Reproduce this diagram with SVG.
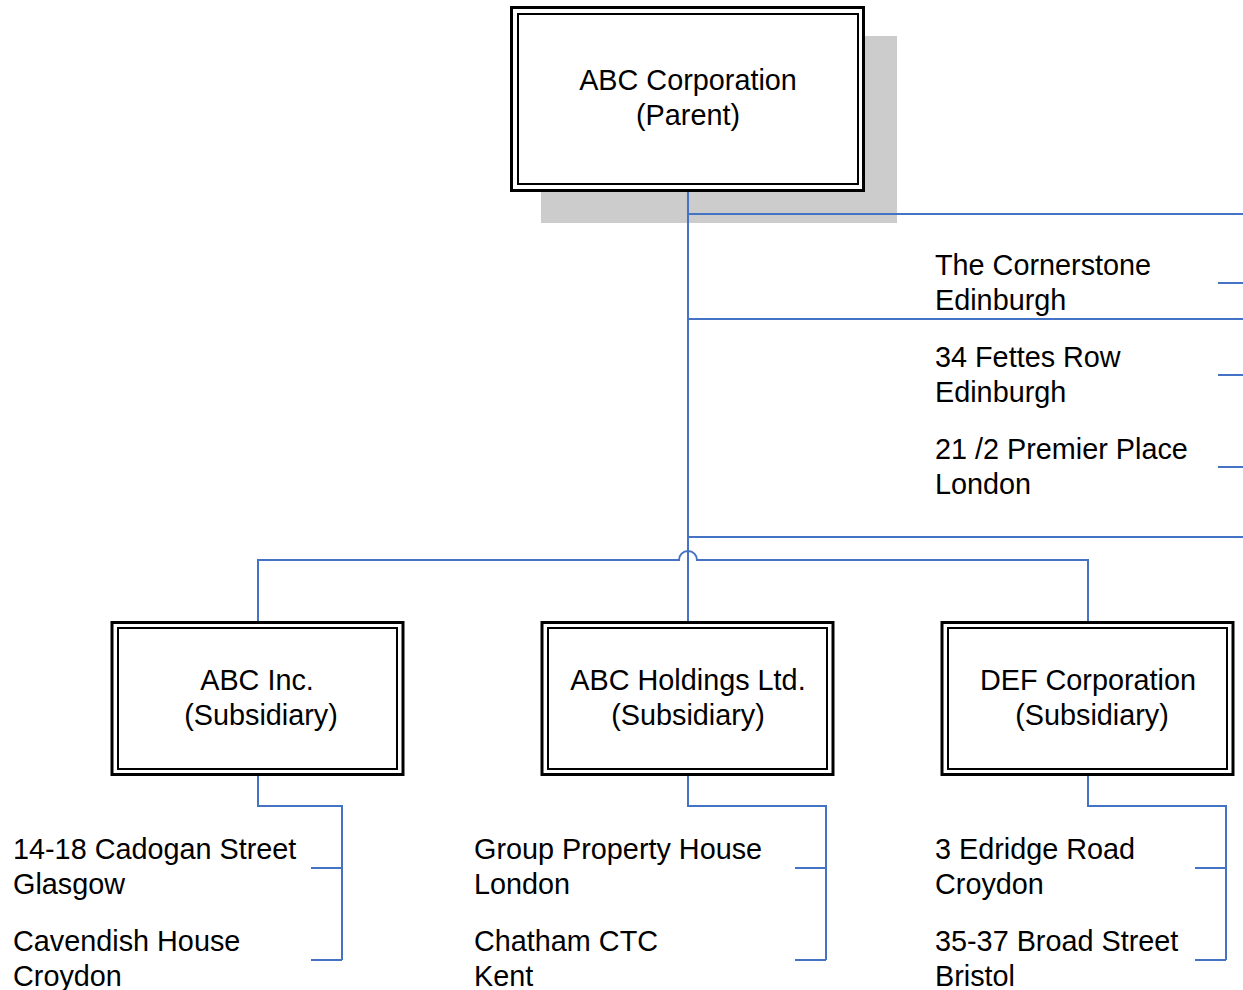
<svg xmlns="http://www.w3.org/2000/svg" width="1243" height="990" viewBox="0 0 1243 990">
<style>
.o{fill:#fff;stroke:#000;stroke-width:3}
.i{fill:none;stroke:#000;stroke-width:2}
.t{font-family:"Liberation Sans",Arial,sans-serif;font-size:28.8px;fill:#000}
.c{text-anchor:middle}
.ln{fill:none;stroke:#4472C4;stroke-width:2}
</style>
<rect x="0" y="0" width="1243" height="990" fill="#fff"/>
<rect x="541" y="36" width="356" height="187" fill="#cccccc"/>
<g id="connectors">
<path class="ln" d="M688 191V622"/>
<path class="ln" d="M688 214H1243M688 319H1243M688 537H1243"/>
<path class="ln" d="M1218 283H1243M1218 375H1243M1218 467H1243"/>
<path class="ln" d="M258 622V560H679A9 9 0 0 1 697 560H1088V622"/>
<path class="ln" d="M258 776V806H342V960M311 868H342M311 960H342"/>
<path class="ln" d="M688 776V806H826V960M795 868H826M795 960H826"/>
<path class="ln" d="M1088 776V806H1226V960M1195 868H1226M1195 960H1226"/>
</g>
<g id="parent">
<rect class="o" x="511.5" y="7.5" width="352" height="183"/>
<rect class="i" x="518" y="14" width="340" height="170"/>
<text class="t c" x="688" y="90">ABC Corporation</text>
<text class="t c" x="688" y="125">(Parent)</text>
</g>
<g id="abc-inc">
<rect class="o" x="112" y="622.5" width="291" height="152"/>
<rect class="i" x="118" y="628" width="279" height="141"/>
<text class="t c" x="257" y="690">ABC Inc.</text>
<text class="t c" x="261" y="725">(Subsidiary)</text>
</g>
<g id="abc-holdings">
<rect class="o" x="542" y="622.5" width="291" height="152"/>
<rect class="i" x="548" y="628" width="279" height="141"/>
<text class="t c" x="688" y="690">ABC Holdings Ltd.</text>
<text class="t c" x="688" y="725">(Subsidiary)</text>
</g>
<g id="def-corp">
<rect class="o" x="942" y="622.5" width="291" height="152"/>
<rect class="i" x="948" y="628" width="279" height="141"/>
<text class="t c" x="1088" y="690">DEF Corporation</text>
<text class="t c" x="1092" y="725">(Subsidiary)</text>
</g>
<g id="parent-sites">
<text class="t" x="935" y="275">The Cornerstone</text>
<text class="t" x="935" y="310">Edinburgh</text>
<text class="t" x="935" y="367">34 Fettes Row</text>
<text class="t" x="935" y="402">Edinburgh</text>
<text class="t" x="935" y="459">21 /2 Premier Place</text>
<text class="t" x="935" y="494">London</text>
</g>
<g id="abc-inc-sites">
<text class="t" x="13" y="859">14-18 Cadogan Street</text>
<text class="t" x="13" y="894">Glasgow</text>
<text class="t" x="13" y="951">Cavendish House</text>
<text class="t" x="13" y="986">Croydon</text>
</g>
<g id="abc-holdings-sites">
<text class="t" x="474" y="859">Group Property House</text>
<text class="t" x="474" y="894">London</text>
<text class="t" x="474" y="951">Chatham CTC</text>
<text class="t" x="474" y="986">Kent</text>
</g>
<g id="def-sites">
<text class="t" x="935" y="859">3 Edridge Road</text>
<text class="t" x="935" y="894">Croydon</text>
<text class="t" x="935" y="951">35-37 Broad Street</text>
<text class="t" x="935" y="986">Bristol</text>
</g>
</svg>
